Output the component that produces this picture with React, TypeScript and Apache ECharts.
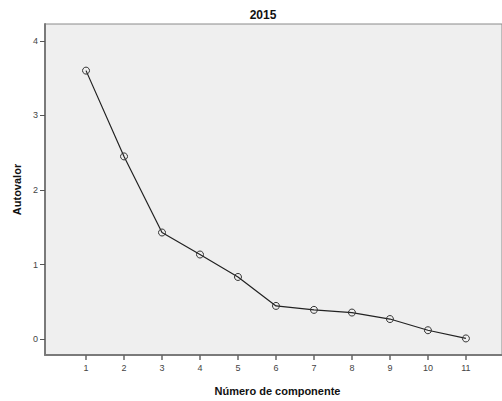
import React, { useEffect, useRef } from "react";
import * as echarts from "echarts";

const components = [1, 2, 3, 4, 5, 6, 7, 8, 9, 10, 11];
const eigenvalues = [3.6, 2.45, 1.43, 1.135, 0.834, 0.446, 0.393, 0.357, 0.27, 0.12, 0.01];
const yTicks = [0, 1, 2, 3, 4];
const titleText = "2015";
const xName = "Número de componente";
const yName = "Autovalor";

export default function App() {
  const ref = useRef<HTMLDivElement>(null);
  useEffect(() => {
    const chart = echarts.init(ref.current!, null, { renderer: "svg" });
    const tickLabelStyle = { color: "#444", fontSize: 9, fontFamily: "Liberation Sans, Arial, sans-serif" };
    chart.setOption({
      animation: false,
      backgroundColor: "#ffffff",
      title: {
        text: titleText,
        left: 258,
        top: 4,
        textAlign: "center",
        textStyle: { fontSize: 12, fontWeight: "bold", color: "#111", fontFamily: "Liberation Sans, Arial, sans-serif" },
      },
      grid: {
        left: 45,
        top: 24,
        right: 0,
        bottom: 42,
        show: true,
        backgroundColor: "#efefef",
        borderColor: "#8a8a8a",
        borderWidth: 1,
      },
      xAxis: {
        type: "value",
        min: -0.08,
        max: 11.95,
        name: xName,
        nameLocation: "middle",
        nameGap: 30,
        nameTextStyle: { fontSize: 11, fontWeight: "bold", color: "#111", fontFamily: "Liberation Sans, Arial, sans-serif", padding: [0, 0, 0, 8] },
        axisLine: { show: true, onZero: false, lineStyle: { color: "#7a7a7a", width: 2 } },
        axisTick: { show: true, customValues: components, length: 5, lineStyle: { color: "#666", width: 1.5 } },
        axisLabel: { customValues: components, ...tickLabelStyle, margin: 8 },
        splitLine: { show: false },
      },
      yAxis: {
        type: "value",
        min: -0.212,
        max: 4.225,
        name: yName,
        nameLocation: "middle",
        nameGap: 20,
        nameTextStyle: { fontSize: 11, fontWeight: "bold", color: "#111", fontFamily: "Liberation Sans, Arial, sans-serif" },
        axisLine: { show: true, onZero: false, lineStyle: { color: "#7a7a7a", width: 2 } },
        axisTick: { show: true, customValues: yTicks, length: 5, lineStyle: { color: "#555", width: 1 } },
        axisLabel: { customValues: yTicks, ...tickLabelStyle, margin: 7 },
        splitLine: { show: false },
      },
      series: [
        {
          type: "line",
          data: components.map((c, i) => [c, eigenvalues[i]]),
          symbol: "circle",
          symbolSize: 7,
          itemStyle: { color: "rgba(0,0,0,0)", borderColor: "#333", borderWidth: 1 },
          lineStyle: { color: "#222", width: 1.2 },
        },
      ],
    });
    return () => chart.dispose();
  }, []);
  return <div ref={ref} style={{ width: 502, height: 401, position: "absolute", left: 0, top: 0 }} />;
}
